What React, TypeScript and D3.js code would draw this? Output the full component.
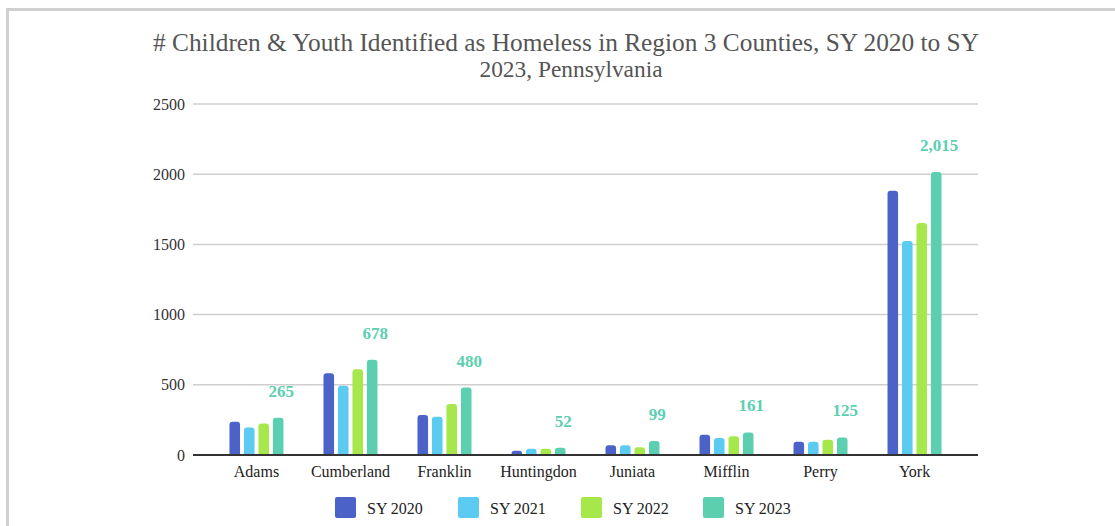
import React from "react";
import * as d3 from "d3";

const categories = ["Adams", "Cumberland", "Franklin", "Huntingdon", "Juniata", "Mifflin", "Perry", "York"];
const seriesNames = ["SY 2020", "SY 2021", "SY 2022", "SY 2023"];
const sy2020 = [237, 582, 285, 31, 69, 145, 95, 1883];
const sy2021 = [195, 494, 273, 45, 69, 121, 95, 1524];
const sy2022 = [225, 610, 363, 44, 55, 133, 109, 1652];
const sy2023 = [265, 678, 480, 52, 99, 161, 125, 2015];
const yTicks = [0, 500, 1000, 1500, 2000, 2500];
const colors = ["#4b63c9", "#5bcbf2", "#a6e84b", "#5bcfb0"];
const titleLines = [
  "# Children & Youth Identified as Homeless in Region 3 Counties, SY 2020 to SY",
  "2023, Pennsylvania",
];

const W = 1115;
const H = 526;
const FONT = "'Liberation Serif', 'Times New Roman', serif";

function topRoundedBar(x: number, y: number, w: number, h: number, r: number) {
  const rr = Math.min(r, w / 2, h);
  const p = d3.path();
  p.moveTo(x, y + h);
  p.lineTo(x, y + rr);
  p.quadraticCurveTo(x, y, x + rr, y);
  p.lineTo(x + w - rr, y);
  p.quadraticCurveTo(x + w, y, x + w, y + rr);
  p.lineTo(x + w, y + h);
  p.closePath();
  return p.toString();
}

export default function App() {
  const series = [sy2020, sy2021, sy2022, sy2023];
  const left = 193, right = 978, top = 104, bottom = 455;
  const y = d3.scaleLinear().domain([0, 2500]).range([bottom, top]);
  const x0 = d3.scaleBand<string>().domain(categories).range([left, right]).paddingInner(0.4255).paddingOuter(0.388);
  const x1 = d3.scaleBand<string>().domain(seriesNames).range([0, x0.bandwidth()]).paddingInner(0.27);
  const fmt = d3.format(",");
  const legendX = [335, 458, 581, 703];

  return (
    <svg width={W} height={H} style={{ position: "absolute", left: 0, top: 0, background: "#fff" }} fontFamily={FONT}>
      <rect x={0} y={0} width={W} height={H} fill="#fff" />
      <rect x={7.5} y={9.5} width={W + 20} height={H + 20} fill="none" stroke="#d0d0d0" strokeWidth={3} />
      <text x={566} y={51} textAnchor="middle" fontSize={24.5} fill="#555" textLength={826} lengthAdjust="spacingAndGlyphs">{titleLines[0]}</text>
      <text x={571} y={77} textAnchor="middle" fontSize={24} fill="#555" textLength={183} lengthAdjust="spacingAndGlyphs">{titleLines[1]}</text>
      {yTicks.map((t) => (
        <g key={t}>
          {t !== 0 && <line x1={left} x2={right} y1={y(t)} y2={y(t)} stroke="#cfcfcf" strokeWidth={1.5} />}
          <text x={185} y={y(t)} dy="0.35em" textAnchor="end" fontSize={16} fill="#333">{t}</text>
        </g>
      ))}
      {categories.map((c, ci) => (
        <g key={c}>
          {series.map((s, si) => {
            const bx = (x0(c) as number) + (x1(seriesNames[si]) as number);
            const by = y(s[ci]);
            return <path key={si} d={topRoundedBar(bx, by, x1.bandwidth(), bottom - by, 3)} fill={colors[si]} />;
          })}
          <text
            x={(x0(c) as number) + (x1(seriesNames[3]) as number) + x1.bandwidth() / 2 + 3}
            y={y(sy2023[ci]) - 21}
            textAnchor="middle"
            fontSize={17}
            fontWeight="bold"
            fill={colors[3]}
          >
            {fmt(sy2023[ci])}
          </text>
          <text x={(x0(c) as number) + x0.bandwidth() / 2} y={477} textAnchor="middle" fontSize={16} fill="#222">{c}</text>
        </g>
      ))}
      <line x1={left} x2={right} y1={bottom} y2={bottom} stroke="#333" strokeWidth={2} />
      {seriesNames.map((s, i) => (
        <g key={s}>
          <rect x={legendX[i]} y={497} width={21} height={21} rx={2} fill={colors[i]} />
          <text x={legendX[i] + 32} y={514} fontSize={16} fill="#222">{s}</text>
        </g>
      ))}
    </svg>
  );
}
